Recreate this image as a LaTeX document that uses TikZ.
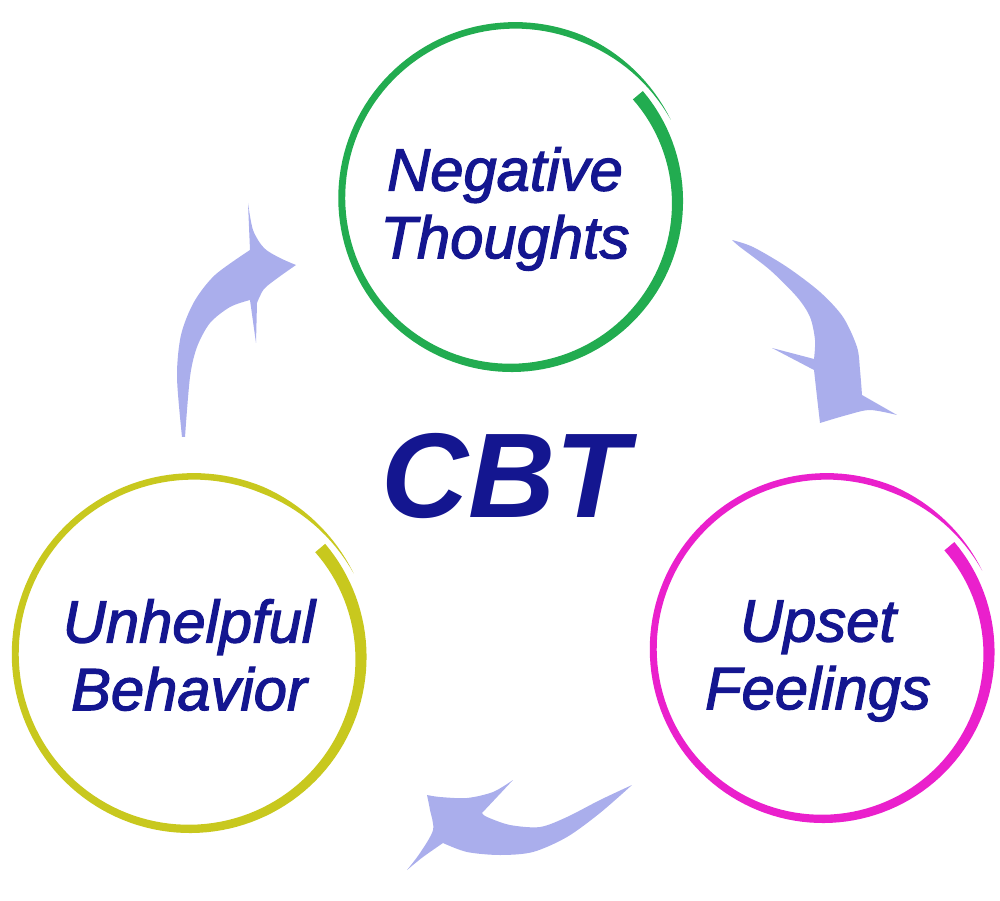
\documentclass[tikz,border=0pt]{standalone}
\usepackage{fontspec}
\usepackage{xcolor}
\usepackage{tikz}
\newfontfamily\labelfont[ItalicFeatures={FakeBold=2}]{Liberation Sans}
\definecolor{ringgreen}{RGB}{34,172,80}
\definecolor{ringpink}{RGB}{234,32,204}
\definecolor{ringyellow}{RGB}{200,200,30}
\definecolor{arrowblue}{RGB}{170,174,236}
\definecolor{textblue}{RGB}{20,22,144}

\begin{document}
\begin{tikzpicture}[x=0.02cm, y=0.02cm,
    declare function={
      ringw(\s)=(6.5+6.5*(1-\s/373)^3)*min(1,(373-\s)/40);
      ringo(\s,\R)=\R-9+\s/373*14+ringw(\s)/2;
      ringi(\s,\R)=\R-9+\s/373*14-ringw(\s)/2;
    }]
      % Styles
      \tikzstyle{ringtext}=[font=\labelfont\itshape\fontsize{34}{38.5}\selectfont, text=textblue, align=center]
      \tikzstyle{brusharrow}=[fill=arrowblue]

      \useasboundingbox (0,0) rectangle (1000,900);

      % Brush rings
      \foreach \cx/\cy/\R/\col in {513/700/172/ringgreen, 824.5/249/172/ringpink, 191.5/244/177/ringyellow}
        \fill[\col] plot[domain=0:373, samples=150] ({\cx+ringo(\x,\R)*cos(40-\x)}, {\cy+ringo(\x,\R)*sin(40-\x)})
          -- plot[domain=0:373, samples=150] ({\cx+ringi(373-\x,\R)*cos(\x-333)}, {\cy+ringi(373-\x,\R)*sin(\x-333)}) -- cycle;

      % Texts
      \node[ringtext] (thoughts) at (505,691) {Negative\\Thoughts};
      \node[ringtext] (feelings) at (818,239) {Upset\\Feelings};
      \node[ringtext] (behavior) at (189,245) {Unhelpful\\Behavior};
      \node[font=\labelfont\bfseries\itshape\fontsize{68.6}{80}\selectfont, text=textblue, anchor=base] (cbt) at (505,383) {CBT};

      % Arrows
      \fill[brusharrow] plot[smooth] coordinates {(182,463) (177,523) (181,565) (194,598) (215,625) (250,650)}
        -- (248,697)
        -- plot[smooth] coordinates {(248,697) (253,670) (264,652) (280,642) (296,635)}
        -- plot[smooth] coordinates {(296,635) (279,623) (264,611) (257,597)}
        -- (256,557) -- (250,600)
        -- plot[smooth] coordinates {(250,600) (230,593) (210,577) (197,553) (190,523) (185,463)}
        -- cycle;
      \fill[brusharrow] plot[smooth] coordinates {(732,660) (753,653) (787,633) (820,608) (843,583) (857,553) (860,530) (862,505)}
        -- (897,485)
        -- plot[smooth] coordinates {(897,485) (870,490) (847,485) (820,477)}
        -- plot[smooth] coordinates {(820,477) (817,503) (814,530)}
        -- (772,552) -- (795,546) -- (814,541)
        -- plot[smooth] coordinates {(814,541) (815,560) (810,583) (797,603) (770,630) (740,653) (732,660)}
        -- cycle;
      \fill[brusharrow] plot[smooth] coordinates {(632,115) (600,100) (567,83) (540,73) (510,75) (487,83) (482,87)}
        -- (513,120)
        -- plot[smooth] coordinates {(513,120) (493,108) (467,102) (440,103) (427,105)}
        -- plot[smooth] coordinates {(427,105) (430,90) (433,70) (420,47) (407,30)}
        -- plot[smooth] coordinates {(407,30) (423,43) (443,57)}
        -- plot[smooth] coordinates {(443,57) (467,48) (500,45) (533,48) (567,63) (600,87) (632,115)}
        -- cycle;
    \end{tikzpicture}
\end{document}
